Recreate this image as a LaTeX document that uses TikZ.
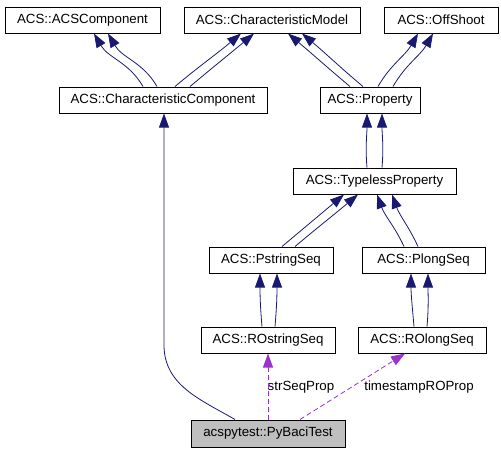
\documentclass[tikz,border=0pt]{standalone}
\usepackage{fontspec}
\setmainfont{Liberation Sans}
\usetikzlibrary{arrows.meta}
\definecolor{navyline}{HTML}{191970}
\definecolor{orchid}{HTML}{9A32CD}
\definecolor{boxgray}{HTML}{BFBFBF}

\begin{document}
\begin{tikzpicture}[
  x=1pt, y=-1pt,
  every node/.style={rectangle, sharp corners, align=center,
    font=\fontsize{13.3}{16}\selectfont},
  classbox/.style={draw=black, line width=1pt, fill=white,
    minimum height=26pt, inner sep=2pt},
  inherit/.style={-{Triangle[length=14pt, width=10pt]}, line width=0.8pt, navyline},
  usage/.style={-{Triangle[length=14pt, width=10pt]}, line width=0.8pt, orchid,
    dash pattern=on 5pt off 3pt},
  edgelabel/.style={inner sep=0pt}
]
\useasboundingbox (0,0) rectangle (501,453);

%% Row 0: base classes
\node[classbox, minimum width=155pt] (acscomp) at (82.5,20) {ACS::ACSComponent};
\node[classbox, minimum width=176pt] (charmodel) at (272,20) {ACS::CharacteristicModel};
\node[classbox, minimum width=114pt] (offshoot) at (441,20) {ACS::OffShoot};

%% Row 1
\node[classbox, minimum width=208pt] (charcomp) at (163,100) {ACS::CharacteristicComponent};
\node[classbox, minimum width=100pt] (property) at (370,100) {ACS::Property};

%% Row 2
\node[classbox, minimum width=163pt] (typeless) at (374.5,181) {ACS::TypelessProperty};

%% Row 3
\node[classbox, minimum width=124pt] (pstring) at (271,260) {ACS::PstringSeq};
\node[classbox, minimum width=123pt] (plong) at (423.5,260) {ACS::PlongSeq};

%% Row 4
\node[classbox, minimum width=134pt] (rostring) at (268,340) {ACS::ROstringSeq};
\node[classbox, minimum width=128pt] (rolong) at (422,340) {ACS::ROlongSeq};

%% Row 5: the documented class
\node[classbox, fill=boxgray, minimum width=154pt, minimum height=27pt] (pybaci) at (268,433.5) {acspytest::PyBaciTest};

%% Edge labels
\node[edgelabel] (lblstr) at (301,387) {strSeqProp};
\node[edgelabel] (lbltime) at (419,387) {timestampROProp};

%% Inheritance — CharacteristicComponent
\draw[inherit] ([xshift=-20pt]charcomp.north) to[out=120,in=-60] ([xshift=11.5pt]acscomp.south);
\draw[inherit] ([xshift=-6pt]charcomp.north) to[out=120,in=-60] ([xshift=25.5pt]acscomp.south);
\draw[inherit] ([xshift=12pt]charcomp.north) to[out=40,in=-140] ([xshift=-31pt]charmodel.south);
\draw[inherit] ([xshift=27pt]charcomp.north) to[out=40,in=-140] ([xshift=-18pt]charmodel.south);

%% Inheritance — Property
\draw[inherit] ([xshift=-20pt]property.north) to[out=140,in=-40] ([xshift=16pt]charmodel.south);
\draw[inherit] ([xshift=-7pt]property.north) to[out=140,in=-40] ([xshift=30pt]charmodel.south);
\draw[inherit] ([xshift=8pt]property.north) to[out=60,in=-120] ([xshift=-23pt]offshoot.south);
\draw[inherit] ([xshift=23pt]property.north) to[out=60,in=-120] ([xshift=-8pt]offshoot.south);

%% Inheritance — TypelessProperty
\draw[inherit] ([xshift=-7.5pt]typeless.north) to[out=95,in=-90] ([xshift=-3pt]property.south);
\draw[inherit] ([xshift=7.5pt]typeless.north) to[out=85,in=-90] ([xshift=12pt]property.south);

%% Inheritance — sequence properties
\draw[inherit] ([xshift=11pt]pstring.north) to[out=40,in=-140] ([xshift=-30.5pt]typeless.south);
\draw[inherit] ([xshift=24pt]pstring.north) to[out=40,in=-140] ([xshift=-16.5pt]typeless.south);
\draw[inherit] ([xshift=-19.5pt]plong.north) to[out=115,in=-70] ([xshift=2.5pt]typeless.south);
\draw[inherit] ([xshift=-5.5pt]plong.north) to[out=115,in=-70] ([xshift=17.5pt]typeless.south);

\draw[inherit] ([xshift=-6pt]rostring.north) to[out=95,in=-90] ([xshift=-11pt]pstring.south);
\draw[inherit] ([xshift=7pt]rostring.north) to[out=85,in=-90] ([xshift=6pt]pstring.south);
\draw[inherit] ([xshift=-8pt]rolong.north) to[out=95,in=-90] ([xshift=-12.5pt]plong.south);
\draw[inherit] ([xshift=5pt]rolong.north) to[out=85,in=-90] ([xshift=4.5pt]plong.south);

%% PyBaciTest — base class and members
\coordinate (leftbend) at (164,345);
\draw[inherit] ([xshift=-33pt]pybaci.north) to[out=150,in=-90] (leftbend) -- ([xshift=1pt]charcomp.south);
\draw[usage] (pybaci.north) -- (rostring.south);
\draw[usage] ([xshift=32pt]pybaci.north) -- ([xshift=-17pt]rolong.south);

\end{tikzpicture}
\end{document}
